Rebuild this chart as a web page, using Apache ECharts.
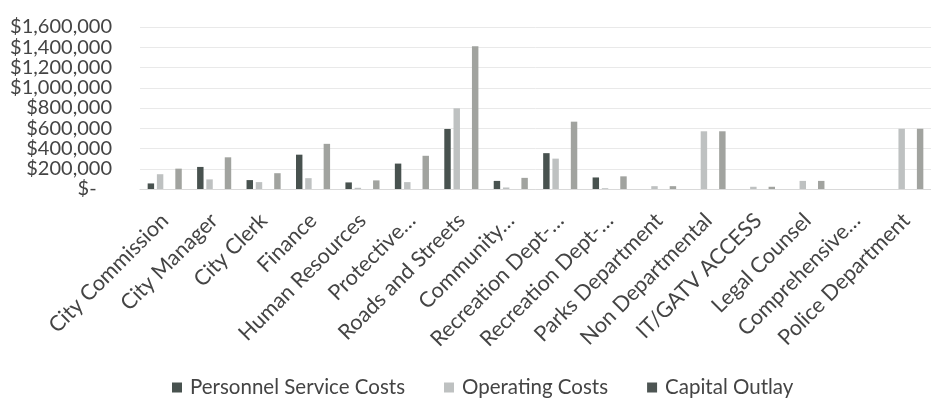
<!DOCTYPE html>
<html>
<head>
<meta charset="utf-8">
<script src="https://cdn.jsdelivr.net/npm/echarts@6/dist/echarts.min.js"></script>
<style>
html,body{margin:0;padding:0;background:#fff;}
#c{width:931px;height:399px;}
</style>
</head>
<body>
<div id="c"></div>
<script>
const categories = ["City Commission","City Manager","City Clerk","Finance","Human Resources","Protective…","Roads and Streets","Community…","Recreation Dept-…","Recreation Dept-…","Parks Department","Non Departmental","IT/GATV ACCESS","Legal Counsel","Comprehensive…","Police Department"];
const personnel = [55000,218000,88000,339000,65000,251000,593000,80000,354000,114000,0,0,0,0,0,0];
const operating = [146000,95000,68000,107000,12000,68000,797000,15000,300000,8000,28000,570000,22000,80000,0,595000];
const capital = [0,0,0,0,0,0,0,0,0,0,0,0,0,0,0,0];
const total = [201000,313000,156000,446000,85000,328000,1410000,110000,665000,125000,28000,570000,22000,80000,0,595000];
const yTicks = {min:0,max:1600000,interval:200000};

const FONT = 'Lato';
const chart = echarts.init(document.getElementById('c'));
chart.setOption({
  animation:false,
  backgroundColor:'#fff',
  grid:{left:140,top:27,width:803,height:162,containLabel:false},
  legend:{
    data:['Personnel Service Costs','Operating Costs','Capital Outlay'],
    left:167, top:372, itemWidth:10, itemHeight:10, itemGap:39,
    icon:'rect',
    textStyle:{fontFamily:FONT,fontSize:20.5,color:'#444',padding:[0,0,0,3]}
  },
  xAxis:{
    type:'category', data:categories,
    axisLine:{lineStyle:{color:'#d9d9d9'}},
    axisTick:{show:false},
    axisLabel:{rotate:45,interval:0,margin:28,fontFamily:FONT,fontSize:21.5,color:'#444'}
  },
  yAxis:{
    type:'value', min:yTicks.min, max:yTicks.max, interval:yTicks.interval,
    axisLine:{show:false}, axisTick:{show:false},
    splitLine:{lineStyle:{color:'#e9e9e9'}},
    axisLabel:{margin:28,fontFamily:FONT,fontSize:20,color:'#444',
      formatter:function(v){ if(v===0) return '$-   '; return '$'+v.toLocaleString('en-US'); }}
  },
  series:[
    {name:'Personnel Service Costs',type:'bar',data:personnel,itemStyle:{color:'#48524f'},barGap:'43%',barCategoryGap:'31%'},
    {name:'Operating Costs',type:'bar',data:operating,itemStyle:{color:'#bec1c1'}},
    {name:'Capital Outlay',type:'bar',data:capital,itemStyle:{color:'#4d5553'}},
    {name:'Total',type:'bar',data:total,itemStyle:{color:'#a1a39f'}}
  ]
});
</script>
</body>
</html>
